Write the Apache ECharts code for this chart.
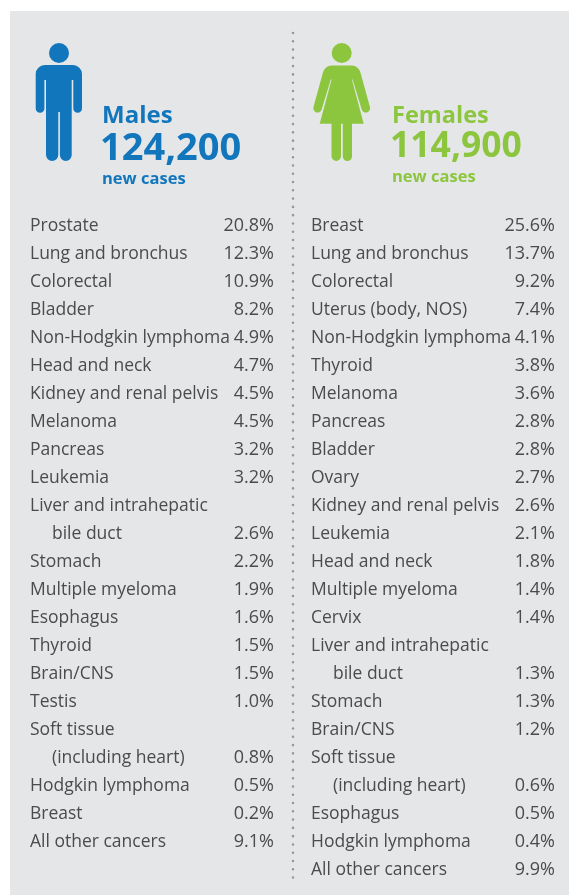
<!DOCTYPE html>
<html>
<head>
<meta charset="utf-8">
<style>
  html, body { margin: 0; padding: 0; background: #fff; }
  #chart { width: 569px; height: 895px; }
</style>
<script src="https://cdn.jsdelivr.net/npm/echarts@6/dist/echarts.min.js"></script>
</head>
<body>
<div id="chart"></div>
<script>
const maleSites = ['Prostate', 'Lung and bronchus', 'Colorectal', 'Bladder', 'Non-Hodgkin lymphoma', 'Head and neck', 'Kidney and renal pelvis', 'Melanoma', 'Pancreas', 'Leukemia', 'Liver and intrahepatic', 'bile duct', 'Stomach', 'Multiple myeloma', 'Esophagus', 'Thyroid', 'Brain/CNS', 'Testis', 'Soft tissue', '(including heart)', 'Hodgkin lymphoma', 'Breast', 'All other cancers'];
const malePct = [20.8, 12.3, 10.9, 8.2, 4.9, 4.7, 4.5, 4.5, 3.2, 3.2, null, 2.6, 2.2, 1.9, 1.6, 1.5, 1.5, 1.0, null, 0.8, 0.5, 0.2, 9.1];

const femaleSites = ['Breast', 'Lung and bronchus', 'Colorectal', 'Uterus (body, NOS)', 'Non-Hodgkin lymphoma', 'Thyroid', 'Melanoma', 'Pancreas', 'Bladder', 'Ovary', 'Kidney and renal pelvis', 'Leukemia', 'Head and neck', 'Multiple myeloma', 'Cervix', 'Liver and intrahepatic', 'bile duct', 'Stomach', 'Brain/CNS', 'Soft tissue', '(including heart)', 'Esophagus', 'Hodgkin lymphoma', 'All other cancers'];
const femalePct = [25.6, 13.7, 9.2, 7.4, 4.1, 3.8, 3.6, 2.8, 2.8, 2.7, 2.6, 2.1, 1.8, 1.4, 1.4, null, 1.3, 1.3, 1.2, null, 0.6, 0.5, 0.4, 9.9];

const maleTotal = '124,200';
const femaleTotal = '114,900';

const BLUE = '#1276bd';
const GREEN = '#8cc63f';
const TEXT = '#4b4b4d';
const FONT = '"Open Sans"';

function rows(pct) {
  return pct.map((v, i) => [i, v]);
}

// row label on the left, percent flush right, second line of a wrapped label indented
function rowRenderer(sites, pct) {
  return function (params, api) {
    const i = api.value(0);
    const y = api.coord([0, i])[1];
    const box = params.coordSys;
    const wrapped = i > 0 && pct[i - 1] == null;
    const children = [{
      type: 'text',
      style: {
        x: box.x + (wrapped ? 22 : 0), y: y, text: sites[i],
        font: '17.5px ' + FONT, fill: TEXT, verticalAlign: 'middle', align: 'left'
      }
    }];
    if (pct[i] != null) {
      children.push({
        type: 'text',
        style: {
          x: box.x + box.width, y: y, text: pct[i].toFixed(1) + '%',
          font: '18px ' + FONT, fill: TEXT, verticalAlign: 'middle', align: 'right'
        }
      });
    }
    return { type: 'group', children: children };
  };
}

function heading(x, y, text, size, color) {
  return {
    type: 'text', z: 1, silent: true, x: x, y: y,
    style: { text: text, font: 'bold ' + size + 'px ' + FONT, fill: color, verticalAlign: 'middle', align: 'left' }
  };
}

// graphic has no plain path type, so the figures are registered as shapes
function registerFigure(name, d) {
  echarts.graphic.registerShape(name, echarts.graphic.extendPath(d));
}
registerFigure('maleFigure', 'M45 65H73A9 9 0 0 1 82 74V108.4A4.35 4.35 0 0 1 73.3 108.4V80H71.7V155.1A5.9 5.9 0 0 1 59.9 155.1V112H58.3V154.85A6.15 6.15 0 0 1 46 154.85V80H44.4V108.4A4.35 4.35 0 0 1 35.7 108.4V74A9 9 0 0 1 45 65Z');
registerFigure('femaleBody', 'M332 78L351.5 78L363.7 123.7H319.7Z');
registerFigure('femaleShoulders', 'M331 65.5H352.4A10 10 0 0 1 360.6 73L369.8 106.5A4.3 4.3 0 0 1 361.8 109.8L352.6 79.5H330.8L321.6 109.8A4.3 4.3 0 0 1 313.6 106.5L322.8 73A10 10 0 0 1 331 65.5Z');
registerFigure('femaleLegs', 'M331.5 120H352V156.4A4.6 4.6 0 0 1 342.8 156.4V122H341V156.25A4.75 4.75 0 0 1 331.5 156.25Z');

const chart = echarts.init(document.getElementById('chart'));

chart.setOption({
  animation: false,
  grid: [
    { left: 30, width: 244, top: 212, height: 672 },
    { left: 311, width: 244, top: 212, height: 672 }
  ],
  xAxis: [
    { gridIndex: 0, type: 'value', min: 0, max: 1, show: false },
    { gridIndex: 1, type: 'value', min: 0, max: 1, show: false }
  ],
  yAxis: [
    { gridIndex: 0, type: 'value', inverse: true, min: -0.5, max: 23.5, show: false },
    { gridIndex: 1, type: 'value', inverse: true, min: -0.5, max: 23.5, show: false }
  ],
  graphic: [
    { type: 'rect', z: -1, silent: true, shape: { x: 10, y: 11, width: 559, height: 884 }, style: { fill: '#e5e6e8' } },
    { type: 'line', z: 0, silent: true, shape: { x1: 293, y1: 33, x2: 293, y2: 882 }, style: { stroke: '#96999e', lineWidth: 2.6, lineCap: 'round', lineDash: [0, 8.28] } },

    { type: 'circle', z: 1, silent: true, shape: { cx: 59, cy: 53, r: 10 }, style: { fill: BLUE } },
    { type: 'maleFigure', z: 1, silent: true, style: { fill: BLUE } },
    heading(102, 116, 'Males', 24, BLUE),
    heading(100, 149, maleTotal, 38, BLUE),
    heading(102, 179, 'new cases', 16.5, BLUE),

    { type: 'circle', z: 1, silent: true, shape: { cx: 341.7, cy: 53, r: 10 }, style: { fill: GREEN } },
    { type: 'femaleShoulders', z: 1, silent: true, style: { fill: GREEN } },
    { type: 'femaleBody', z: 1, silent: true, style: { fill: GREEN } },
    { type: 'femaleLegs', z: 1, silent: true, style: { fill: GREEN } },
    heading(392, 116, 'Females', 23.5, GREEN),
    heading(390, 147, femaleTotal, 35.5, GREEN),
    heading(392, 177, 'new cases', 16.5, GREEN)
  ],
  series: [
    {
      type: 'custom', xAxisIndex: 0, yAxisIndex: 0, silent: true,
      encode: { y: 0 }, data: rows(malePct), renderItem: rowRenderer(maleSites, malePct)
    },
    {
      type: 'custom', xAxisIndex: 1, yAxisIndex: 1, silent: true,
      encode: { y: 0 }, data: rows(femalePct), renderItem: rowRenderer(femaleSites, femalePct)
    }
  ]
});
</script>
</body>
</html>
